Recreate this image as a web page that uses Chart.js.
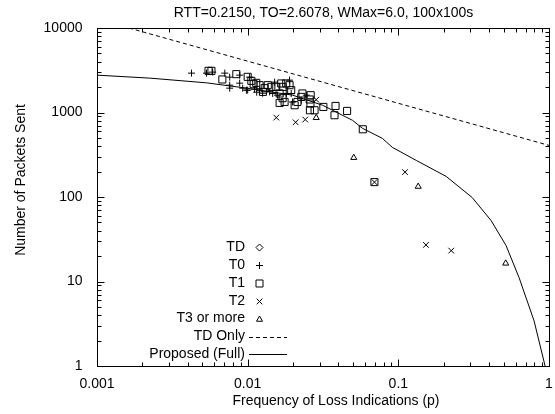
<!DOCTYPE html>
<html>
<head>
<meta charset="utf-8">
<script src="https://cdn.jsdelivr.net/npm/chart.js@4.4.1/dist/chart.umd.min.js"></script>
<style>
  html, body { margin: 0; padding: 0; background: #fff; }
  #wrap { width: 555px; height: 414px; }
</style>
</head>
<body>
<div id="wrap"><canvas id="chart" width="555" height="414"></canvas></div>
<script>
const chartTitle = 'RTT=0.2150, TO=2.6078, WMax=6.0, 100x100s';
const xTitle = 'Frequency of Loss Indications (p)';
const yTitle = 'Number of Packets Sent';
const xTicks = [0.001, 0.01, 0.1, 1];
const xTickLabels = ['0.001', '0.01', '0.1', '1'];
const yTicks = [1, 10, 100, 1000, 10000];
const yTickLabels = ['1', '10', '100', '1000', '10000'];
const legendLabels = ['TD', 'T0', 'T1', 'T2', 'T3 or more', 'TD Only', 'Proposed (Full)'];

// loss frequency p / packets sent
const tdP = [];
const tdN = [];

const t0P = [0.00424, 0.00533, 0.00586, 0.00705, 0.0076, 0.0076, 0.0076, 0.00885, 0.00927, 0.0100,
  0.01148, 0.00885, 0.00981, 0.01111, 0.0120, 0.0140, 0.01466, 0.0158, 0.01803, 0.01945,
  0.01986, 0.0227, 0.0245, 0.01256, 0.0103, 0.0151, 0.01897];
const t0N = [2923, 2923, 3005, 2923, 2620, 2105, 1941, 2225, 1941, 1837,
  1739, 2767, 1837, 1888, 1837, 1754, 1679, 1603, 1679, 1679,
  1334, 1397, 1603, 1692, 2620, 2287, 2414];

const t1P = [0.0055, 0.00575, 0.00679, 0.00841, 0.0100, 0.01058, 0.01096, 0.0114, 0.0120, 0.01297,
  0.01436, 0.01549, 0.0167, 0.01706, 0.01803, 0.01897, 0.01945, 0.0163, 0.01706, 0.0163,
  0.01758, 0.0205, 0.0214, 0.0227, 0.0231, 0.0258, 0.0261, 0.0259, 0.0278, 0.0262,
  0.0318, 0.0383, 0.0377, 0.0457, 0.0581, 0.0694, 0.0136, 0.01262];
const t1N = [3113, 3113, 2461, 2844, 2642, 2370, 2164, 2242, 2105, 1941,
  2011, 2011, 2206, 2011, 2206, 2105, 1837, 1679, 1476, 1298,
  1334, 1219, 1334, 1530, 1679, 1425, 1277, 1063, 1063, 1603,
  1164, 1196, 928, 1044, 633, 150, 2105, 1754];

const t2P = [0.01549, 0.0208, 0.0241, 0.0285, 0.0694, 0.1107, 0.1524, 0.2244];
const t2N = [871, 766, 825, 1417, 150, 197, 27.1, 23.2];

const t3P = [0.0285, 0.0506, 0.1355, 0.516];
const t3N = [866, 292, 133, 16.4];

const tdOnlyP = [0.00163, 1];
const tdOnlyN = [10000, 408];

const fullP = [0.001, 0.00224, 0.00534, 0.00985, 0.0199, 0.0314, 0.0496, 0.0578, 0.0784, 0.0912,
  0.1315, 0.208, 0.309, 0.413, 0.519, 0.633, 0.796, 0.942];
const fullN = [2767, 2552, 2243, 1941, 1603, 1219, 809, 650, 494, 387,
  271, 175, 98.6, 52.6, 26.6, 11.1, 3.42, 1];

const FONT = '"Liberation Sans", Arial, Helvetica, sans-serif';

function pts(xs, ys) {
  return xs.map((v, i) => ({x: v, y: ys[i]}));
}

function markSet(label, xs, ys, style, r) {
  return {
    label: label,
    data: pts(xs, ys),
    pointStyle: style,
    pointRadius: r,
    pointHoverRadius: r,
    pointBorderWidth: 1,
    pointBorderColor: '#000',
    pointBackgroundColor: 'rgba(0,0,0,0)',
    showLine: false
  };
}

function lineSet(label, xs, ys, dash) {
  return {
    label: label,
    data: pts(xs, ys),
    showLine: true,
    borderColor: '#000',
    borderWidth: 1,
    borderDash: dash,
    pointRadius: 0,
    pointHoverRadius: 0,
    tension: 0,
    fill: false
  };
}

function drawSymbol(ctx, style, cx, cy) {
  ctx.beginPath();
  if (style === 'cross') {
    ctx.moveTo(cx - 3.5, cy); ctx.lineTo(cx + 3.5, cy);
    ctx.moveTo(cx, cy - 3.5); ctx.lineTo(cx, cy + 3.5);
  } else if (style === 'rect') {
    ctx.rect(cx - 3.5, cy - 3.5, 7, 7);
  } else if (style === 'crossRot') {
    ctx.moveTo(cx - 2.8, cy - 2.8); ctx.lineTo(cx + 2.8, cy + 2.8);
    ctx.moveTo(cx - 2.8, cy + 2.8); ctx.lineTo(cx + 2.8, cy - 2.8);
  } else if (style === 'triangle') {
    ctx.moveTo(cx, cy - 3.5);
    ctx.lineTo(cx + 3, cy + 1.75);
    ctx.lineTo(cx - 3, cy + 1.75);
    ctx.closePath();
  } else if (style === 'rectRot') {
    ctx.moveTo(cx, cy - 3.5); ctx.lineTo(cx + 3.5, cy);
    ctx.lineTo(cx, cy + 3.5); ctx.lineTo(cx - 3.5, cy);
    ctx.closePath();
  }
  ctx.stroke();
}

const frame = {
  id: 'frame',
  afterDraw(chart) {
    const ctx = chart.ctx;
    const a = chart.chartArea;
    const sx = chart.scales.x;
    const sy = chart.scales.y;
    const L = Math.round(a.left) + 0.5, R = Math.round(a.right) + 0.5;
    const T = Math.round(a.top) + 0.5, B = Math.round(a.bottom) + 0.5;
    ctx.save();
    ctx.strokeStyle = '#000';
    ctx.lineWidth = 1;
    ctx.setLineDash([]);
    ctx.strokeRect(L, T, R - L, B - T);

    // ticks, drawn inward on all four sides
    ctx.beginPath();
    xTicks.forEach((d, i) => {
      const px = Math.round(sx.getPixelForValue(d)) + 0.5;
      ctx.moveTo(px, B); ctx.lineTo(px, B - 7);
      ctx.moveTo(px, T); ctx.lineTo(px, T + 7);
      if (i < xTicks.length - 1) {
        for (let m = 2; m <= 9; m++) {
          const q = Math.round(sx.getPixelForValue(d * m)) + 0.5;
          ctx.moveTo(q, B); ctx.lineTo(q, B - 4);
          ctx.moveTo(q, T); ctx.lineTo(q, T + 4);
        }
      }
    });
    yTicks.forEach((d, i) => {
      const py = Math.round(sy.getPixelForValue(d)) + 0.5;
      ctx.moveTo(L, py); ctx.lineTo(L + 7, py);
      ctx.moveTo(R, py); ctx.lineTo(R - 7, py);
      if (i < yTicks.length - 1) {
        for (let m = 2; m <= 9; m++) {
          const q = Math.round(sy.getPixelForValue(d * m)) + 0.5;
          ctx.moveTo(L, q); ctx.lineTo(L + 4, q);
          ctx.moveTo(R, q); ctx.lineTo(R - 4, q);
        }
      }
    });
    ctx.stroke();

    ctx.fillStyle = '#000';
    ctx.font = '14px ' + FONT;
    ctx.textBaseline = 'middle';
    ctx.textAlign = 'center';
    xTicks.forEach((d, i) => {
      ctx.fillText(xTickLabels[i], sx.getPixelForValue(d), B + 18);
    });
    ctx.textAlign = 'right';
    yTicks.forEach((d, i) => {
      ctx.fillText(yTickLabels[i], L - 15, sy.getPixelForValue(d));
    });

    ctx.textAlign = 'center';
    ctx.fillText(chartTitle, (L + R) / 2, 13);
    ctx.fillText(xTitle, 336, 401);
    ctx.save();
    ctx.translate(21, 180);
    ctx.rotate(-Math.PI / 2);
    ctx.fillText(yTitle, 0, 0);
    ctx.restore();

    // key
    const styles = ['rectRot', 'cross', 'rect', 'crossRot', 'triangle'];
    legendLabels.forEach((lab, i) => {
      const ly = 247 + i * 17.9;
      ctx.textAlign = 'right';
      ctx.fillText(lab, 245, ly);
      if (i < styles.length) {
        drawSymbol(ctx, styles[i], 259.5, Math.round(ly) + 0.5);
      } else {
        ctx.beginPath();
        ctx.setLineDash(i === 5 ? [4, 3] : []);
        ctx.moveTo(249, Math.round(ly) + 0.5);
        ctx.lineTo(287, Math.round(ly) + 0.5);
        ctx.stroke();
        ctx.setLineDash([]);
      }
    });
    ctx.restore();
  }
};

new Chart(document.getElementById('chart'), {
  type: 'scatter',
  data: {
    datasets: [
      markSet('TD', tdP, tdN, 'rectRot', 4),
      markSet('T0', t0P, t0N, 'cross', 3.5),
      markSet('T1', t1P, t1N, 'rect', 5),
      markSet('T2', t2P, t2N, 'crossRot', 4),
      markSet('T3 or more', t3P, t3N, 'triangle', 3.5),
      lineSet('TD Only', tdOnlyP, tdOnlyN, [4, 3]),
      lineSet('Proposed (Full)', fullP, fullN, [])
    ]
  },
  options: {
    responsive: false,
    animation: false,
    devicePixelRatio: 1,
    layout: { padding: { left: 97, right: 5, top: 28, bottom: 48 } },
    plugins: {
      legend: { display: false },
      title: { display: false },
      tooltip: { enabled: false }
    },
    scales: {
      x: { type: 'logarithmic', min: 0.001, max: 1, display: false },
      y: { type: 'logarithmic', min: 1, max: 10000, display: false }
    }
  },
  plugins: [frame]
});
</script>
</body>
</html>
